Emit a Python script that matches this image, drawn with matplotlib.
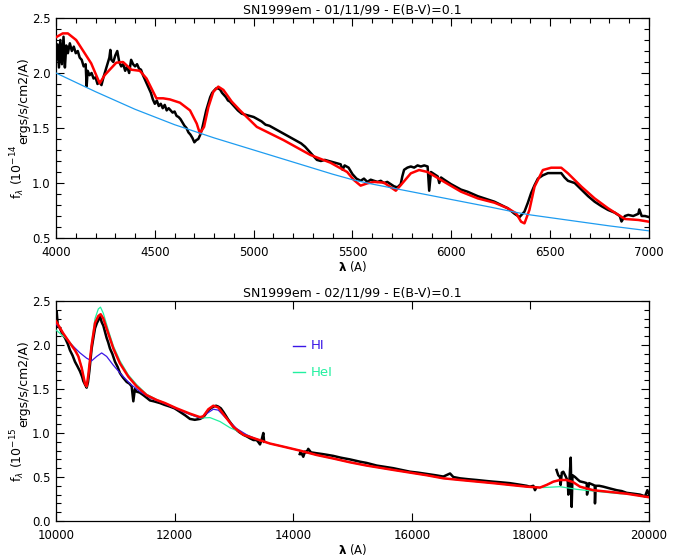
import matplotlib
matplotlib.use("Agg")
import matplotlib.pyplot as plt
import matplotlib.transforms as mtransforms
from matplotlib.ticker import MultipleLocator, FormatStrFormatter

# ---------------- Top panel data (01/11/99) ----------------
obs1_wave = [4000, 4008, 4015, 4022, 4030, 4038, 4045, 4052, 4060, 4070, 4080, 4090, 4100, 4110,
             4120, 4130, 4140, 4150, 4155, 4160, 4170, 4180, 4190, 4200, 4210, 4220, 4230, 4240,
             4250, 4260, 4270, 4275, 4280, 4290, 4300, 4310, 4320, 4330, 4340, 4350, 4360, 4370,
             4380, 4390, 4400, 4410, 4420, 4430, 4440, 4450, 4460, 4470, 4480, 4490, 4500, 4510,
             4520, 4530, 4540, 4550, 4560, 4570, 4580, 4590, 4600, 4610, 4620, 4630, 4640, 4650,
             4660, 4670, 4680, 4690, 4700, 4710, 4720, 4730, 4740, 4750, 4760, 4770, 4780, 4790,
             4800, 4810, 4820, 4830, 4840, 4850, 4860, 4870, 4880, 4900, 4920, 4940, 4960, 4980,
             5000, 5020, 5040, 5060, 5080, 5100, 5120, 5140, 5160, 5180, 5200, 5220, 5240, 5260,
             5280, 5300, 5320, 5340, 5360, 5380, 5400, 5420, 5440, 5450, 5460, 5480, 5500, 5520,
             5541, 5558, 5575, 5592, 5609, 5626, 5643, 5659, 5676, 5693, 5710, 5727, 5744, 5752,
             5761, 5778, 5795, 5812, 5829, 5846, 5863, 5880, 5888, 5897, 5914, 5931, 5939, 5948,
             5964, 5998, 6049, 6083, 6134, 6184, 6218, 6252, 6286, 6320, 6345, 6370, 6387, 6404,
             6421, 6438, 6463, 6489, 6522, 6556, 6573, 6590, 6624, 6658, 6692, 6725, 6759, 6793,
             6827, 6852, 6861, 6878, 6895, 6920, 6946, 6951, 6963, 6980, 7000]
obs1_flux = [2.12, 2.26, 2.05, 2.30, 2.08, 2.33, 2.05, 2.25, 2.18, 2.27, 2.20, 2.24, 2.18, 2.20,
             2.14, 2.12, 2.06, 2.08, 1.88, 2.02, 1.98, 2.00, 1.95, 1.96, 1.90, 1.92, 1.89, 1.96,
             2.02, 2.08, 2.14, 2.21, 2.12, 2.10, 2.16, 2.20, 2.10, 2.06, 2.08, 2.02, 2.06, 2.00,
             2.12, 2.08, 2.06, 2.08, 2.04, 2.03, 1.98, 1.94, 1.90, 1.86, 1.82, 1.76, 1.72, 1.75,
             1.70, 1.72, 1.68, 1.71, 1.66, 1.68, 1.66, 1.64, 1.65, 1.61, 1.60, 1.58, 1.55, 1.52,
             1.50, 1.46, 1.44, 1.41, 1.37, 1.39, 1.40, 1.44, 1.50, 1.58, 1.66, 1.72, 1.78, 1.82,
             1.84, 1.86, 1.86, 1.85, 1.82, 1.80, 1.78, 1.75, 1.74, 1.70, 1.66, 1.63, 1.62, 1.61,
             1.60, 1.58, 1.56, 1.53, 1.52, 1.50, 1.48, 1.46, 1.44, 1.42, 1.40, 1.38, 1.36, 1.33,
             1.29, 1.25, 1.21, 1.20, 1.21, 1.20, 1.19, 1.18, 1.17, 1.12, 1.16, 1.14, 1.08, 1.04,
             1.02, 1.04, 1.01, 1.03, 1.02, 1.01, 1.02, 1.00, 1.01, 0.99, 0.97, 0.96, 0.99, 1.06,
             1.12, 1.14, 1.15, 1.14, 1.16, 1.15, 1.16, 1.15, 0.93, 1.10, 1.08, 1.06, 1.00, 1.05,
             1.03, 0.99, 0.94, 0.92, 0.88, 0.85, 0.83, 0.80, 0.77, 0.72, 0.69, 0.74, 0.82, 0.91,
             0.98, 1.04, 1.07, 1.09, 1.09, 1.09, 1.05, 1.02, 1.00, 0.94, 0.88, 0.83, 0.79, 0.755,
             0.73, 0.70, 0.65, 0.70, 0.71, 0.70, 0.72, 0.76, 0.70, 0.70, 0.69]

mod1_wave = [4000, 4034, 4060, 4102, 4178, 4221, 4246, 4305, 4339, 4381, 4424, 4458, 4508, 4542,
             4576, 4627, 4678, 4712, 4728, 4749, 4771, 4796, 4821, 4847, 4889, 4931, 5016, 5151,
             5287, 5388, 5473, 5507, 5541, 5575, 5609, 5659, 5701, 5719, 5744, 5795, 5837, 5880,
             5964, 6049, 6134, 6218, 6286, 6328, 6353, 6370, 6395, 6421, 6463, 6505, 6556, 6590,
             6658, 6725, 6793, 6878, 6946, 7000]
mod1_flux = [2.325, 2.36, 2.36, 2.30, 2.088, 1.906, 1.98, 2.094, 2.10, 2.03, 2.02, 1.95, 1.77, 1.77,
             1.76, 1.73, 1.66, 1.54, 1.45, 1.51, 1.69, 1.83, 1.876, 1.846, 1.74, 1.66, 1.51, 1.39,
             1.255, 1.185, 1.10, 1.027, 0.976, 0.997, 1.01, 1.003, 0.952, 0.93, 0.98, 1.088, 1.118, 1.10,
             1.01, 0.921, 0.86, 0.821, 0.77, 0.724, 0.648, 0.633, 0.755, 0.967, 1.118, 1.139, 1.139, 1.088,
             0.967, 0.86, 0.77, 0.673, 0.664, 0.648]

cont1_wave = [4000, 4200, 4400, 4600, 4700, 4800, 5000, 5200, 5400, 5500, 5600, 5800, 6000, 6200,
              6336, 6400, 6600, 6800, 7000]
cont1_flux = [2.00, 1.83, 1.67, 1.53, 1.47, 1.41, 1.30, 1.19, 1.08, 1.03, 0.99, 0.92, 0.85, 0.78,
              0.73, 0.71, 0.66, 0.61, 0.565]

# ---------------- Bottom panel data (02/11/99) ----------------
obs2a_wave = [10000, 10012, 10030, 10067, 10110, 10152, 10200, 10236, 10280, 10320, 10360, 10405,
              10440, 10461, 10490, 10517, 10540, 10562, 10601, 10630, 10658, 10690, 10714, 10742,
              10770, 10798, 10830, 10854, 10880, 10910, 10950, 10995, 11040, 11079, 11130, 11192,
              11240, 11276, 11304, 11330, 11360, 11410, 11473, 11530, 11585, 11650, 11754, 11830,
              11922, 12000, 12091, 12180, 12259, 12340, 12428, 12484, 12530, 12569, 12610, 12653,
              12700, 12737, 12780, 12822, 12860, 12906, 12960, 13018, 13090, 13159, 13220, 13271,
              13330, 13384, 13420, 13440, 13470, 13496, 13510]
obs2a_flux = [2.27, 2.38, 2.22, 2.19, 2.12, 2.08, 2.01, 1.94, 1.88, 1.81, 1.76, 1.70,
              1.64, 1.59, 1.55, 1.515, 1.58, 1.70, 1.96, 2.08, 2.19, 2.25, 2.28, 2.33,
              2.26, 2.22, 2.14, 2.08, 2.03, 1.96, 1.90, 1.81, 1.75, 1.68, 1.63, 1.58,
              1.56, 1.53, 1.36, 1.50, 1.47, 1.46, 1.43, 1.40, 1.37, 1.36, 1.34, 1.32,
              1.30, 1.28, 1.24, 1.20, 1.16, 1.15, 1.16, 1.18, 1.22, 1.26, 1.28, 1.30,
              1.31, 1.30, 1.28, 1.24, 1.20, 1.15, 1.10, 1.05, 1.01, 0.98, 0.96, 0.94,
              0.92, 0.92, 0.89, 0.87, 0.93, 1.00, 0.90]

obs2b_wave = [14110, 14125, 14170, 14200, 14226, 14254, 14300, 14395, 14500, 14590, 14676, 14800,
              14957, 15126, 15238, 15408, 15550, 15689, 15830, 15970, 16100, 16251, 16400, 16532,
              16645, 16700, 16813, 16950, 17094, 17250, 17375, 17500, 17656, 17800, 17937, 17993,
              18050, 18077, 18100]
obs2b_flux = [0.76, 0.79, 0.73, 0.79, 0.78, 0.82, 0.78, 0.77, 0.76, 0.75, 0.74, 0.72,
              0.70, 0.674, 0.66, 0.63, 0.615, 0.60, 0.58, 0.56, 0.55, 0.535, 0.52, 0.505,
              0.54, 0.50, 0.485, 0.475, 0.466, 0.455, 0.447, 0.44, 0.43, 0.415, 0.40, 0.39,
              0.40, 0.35, 0.38]

obs2c_wave = [18440, 18470, 18499, 18510, 18530, 18555, 18600, 18630, 18640, 18660, 18680, 18696,
              18710, 18752, 18800, 18836, 18900, 18949, 18955, 18990, 19061, 19085, 19089, 19100,
              19160, 19230, 19340, 19455, 19540, 19624, 19740, 19848, 19933, 19972, 20000]
obs2c_flux = [0.58, 0.52, 0.50, 0.41, 0.55, 0.56, 0.50, 0.45, 0.30, 0.48, 0.72, 0.16,
              0.52, 0.50, 0.47, 0.45, 0.44, 0.43, 0.30, 0.43, 0.41, 0.40, 0.20, 0.40,
              0.40, 0.39, 0.37, 0.35, 0.34, 0.32, 0.31, 0.30, 0.28, 0.35, 0.30]

mod2_wave = [10000, 10124, 10236, 10320, 10377, 10433, 10489, 10517, 10545, 10601, 10658, 10714,
             10753, 10798, 10882, 10967, 11079, 11220, 11360, 11529, 11698, 11838, 12035, 12259,
             12428, 12484, 12569, 12653, 12737, 12850, 12990, 13159, 13384, 13609, 13834, 14114,
             14395, 14676, 14957, 15238, 15689, 16251, 16532, 16813, 17375, 17937, 18162, 18274,
             18387, 18499, 18612, 18724, 18836, 19061, 19342, 19624, 20000]
mod2_flux = [2.27, 2.13, 2.02, 1.94, 1.87, 1.74, 1.56, 1.53, 1.66, 2.00, 2.25, 2.33,
             2.35, 2.30, 2.13, 1.96, 1.79, 1.64, 1.53, 1.43, 1.375, 1.34, 1.28, 1.22,
             1.18, 1.19, 1.27, 1.31, 1.29, 1.19, 1.07, 0.98, 0.93, 0.88, 0.845, 0.80,
             0.75, 0.71, 0.667, 0.63, 0.58, 0.52, 0.485, 0.466, 0.43, 0.39, 0.38, 0.41,
             0.447, 0.466, 0.466, 0.44, 0.39, 0.35, 0.33, 0.31, 0.27]

hi_wave = [10000, 10067, 10236, 10405, 10517, 10601, 10686, 10770, 10854, 10967, 11107, 11248,
           11416, 11585, 11810, 12147, 12428, 12540, 12653, 12737, 12878, 13046, 13215, 13384,
           13609, 13834, 14114, 14395, 14676, 14957, 15238, 15689, 16251, 16532, 16813, 17375,
           17937, 18162, 18274, 18387, 18499, 18612, 18724, 18836, 19061, 19342, 19624, 20000]
hi_flux = [2.24, 2.19, 2.02, 1.91, 1.85, 1.82, 1.87, 1.91, 1.87, 1.77, 1.66, 1.56,
           1.47, 1.40, 1.34, 1.24, 1.17, 1.22, 1.27, 1.26, 1.16, 1.05, 0.98, 0.93,
           0.88, 0.845, 0.80, 0.75, 0.71, 0.667, 0.63, 0.58, 0.52, 0.485, 0.466, 0.43,
           0.39, 0.38, 0.41, 0.447, 0.466, 0.466, 0.44, 0.39, 0.35, 0.33, 0.31, 0.27]

hei_wave = [10000, 10124, 10236, 10320, 10377, 10433, 10489, 10517, 10545, 10601, 10658, 10714,
            10750, 10798, 10882, 10967, 11079, 11220, 11360, 11529, 11698, 11838, 12035, 12259,
            12428, 12597, 12766, 12934, 13103, 13271, 13384, 13609, 13834, 14114, 14395, 14676,
            14957, 15238, 15689, 16251, 16532, 16813, 17375, 17937, 18218, 18499, 18780, 19061,
            19511, 19624, 20000]
hei_flux = [2.17, 2.10, 2.03, 1.96, 1.88, 1.75, 1.57, 1.52, 1.65, 2.02, 2.30, 2.41,
            2.43, 2.36, 2.17, 1.99, 1.82, 1.66, 1.55, 1.44, 1.38, 1.34, 1.28, 1.21,
            1.17, 1.175, 1.13, 1.06, 1.01, 0.96, 0.93, 0.88, 0.845, 0.80, 0.75, 0.71,
            0.667, 0.63, 0.58, 0.52, 0.485, 0.466, 0.43, 0.39, 0.38, 0.39, 0.36, 0.34,
            0.31, 0.31, 0.27]

title1 = "SN1999em - 01/11/99 - E(B-V)=0.1"
title2 = "SN1999em - 02/11/99 - E(B-V)=0.1"
ylab1_main = r"f$_\lambda$ (10$^{-14}$"
ylab2_main = r"f$_\lambda$ (10$^{-15}$"
ylab_sub = "ergs/s/cm2/A)"
legend_labels = ["HI", "HeI"]

# ---------------- Style ----------------
plt.rcParams['font.family'] = ['DejaVu Sans']
plt.rcParams['mathtext.fontset'] = 'dejavusans'
FS = 8.5
C_OBS = 'black'
C_MOD = '#ff0000'
C_CONT = '#1e9cf0'
C_HI = '#3a16e6'
C_HEI = '#22f0a0'

fig = plt.figure(figsize=(6.86, 5.56), dpi=100)
W = 593 / 686
H = 220 / 556
ax1 = fig.add_axes([56 / 686, 1 - 238 / 556, W, H])
ax2 = fig.add_axes([56 / 686, 1 - 521 / 556, W, H])


def style(ax, xmaj, xmin, ymaj, ymin):
    ax.xaxis.set_major_locator(MultipleLocator(xmaj))
    if xmin:
        ax.xaxis.set_minor_locator(MultipleLocator(xmin))
    ax.yaxis.set_major_locator(MultipleLocator(ymaj))
    ax.yaxis.set_minor_locator(MultipleLocator(ymin))
    ax.yaxis.set_major_formatter(FormatStrFormatter('%.1f'))
    ax.tick_params(which='both', direction='in', top=True, right=True, labelsize=FS,
                   width=0.8)
    ax.tick_params(axis='x', pad=6)
    ax.tick_params(axis='y', pad=4)
    ax.tick_params(which='major', length=6)
    ax.tick_params(which='minor', length=3.5)
    for s in ax.spines.values():
        s.set_linewidth(0.9)
    ax.set_xlabel(r'$\mathbf{\lambda}$ (A)', fontsize=FS, labelpad=0)


# Top panel
ax1.plot(obs1_wave, obs1_flux, color=C_OBS, lw=1.8, zorder=2)
ax1.plot(mod1_wave, mod1_flux, color=C_MOD, lw=1.8, zorder=3)
ax1.plot(cont1_wave, cont1_flux, color=C_CONT, lw=0.9, zorder=4)
ax1.set_xlim(4000, 7000)
ax1.set_ylim(0.5, 2.5)
style(ax1, 500, 100, 0.5, 0.1)
ax1.set_title(title1, fontsize=FS + 0.5, pad=3)

# Bottom panel
for w, f in ((obs2a_wave, obs2a_flux), (obs2b_wave, obs2b_flux), (obs2c_wave, obs2c_flux)):
    ax2.plot(w, f, color=C_OBS, lw=1.8, zorder=2)
ax2.plot(hei_wave, hei_flux, color=C_HEI, lw=0.9, zorder=3)
ax2.plot(hi_wave, hi_flux, color=C_HI, lw=0.9, zorder=4)
ax2.plot(mod2_wave, mod2_flux, color=C_MOD, lw=1.8, zorder=5)
ax2.set_xlim(10000, 20000)
ax2.set_ylim(0.0, 2.5)
style(ax2, 2000, None, 0.5, 0.1)
ax2.set_title(title2, fontsize=FS + 0.5, pad=3)

# In-plot legend (line + label)
for lab, col, yv in ((legend_labels[0], C_HI, 1.99), (legend_labels[1], C_HEI, 1.69)):
    ax2.plot([14000, 14200], [yv, yv], color=col, lw=1.0)
    ax2.text(14300, yv, lab, color=col, fontsize=FS + 1, va='center', ha='left')

# Lift the lowest y tick label slightly (as in the reference)
fig.canvas.draw()
for ax in (ax1, ax2):
    labs = ax.get_yticklabels()
    if labs:
        labs[0].set_transform(labs[0].get_transform() +
                              mtransforms.ScaledTranslation(0, 3 / 72, fig.dpi_scale_trans))

# Y labels: main part plus a lowered (subscript-like) unit part, rotated
renderer = fig.canvas.get_renderer()
LFS = 9
for ax, main in ((ax1, ylab1_main), (ax2, ylab2_main)):
    bb = ax.get_position()
    yc = (bb.y0 + bb.y1) / 2 * fig.bbox.height
    xb = 22.0
    t1 = fig.text(0, 0, main + " ", fontsize=LFS, rotation=90, rotation_mode='anchor',
                  ha='left', va='baseline', transform=None)
    t2 = fig.text(0, 0, ylab_sub, fontsize=LFS, rotation=90, rotation_mode='anchor',
                  ha='left', va='baseline', transform=None)
    l1 = t1.get_window_extent(renderer).height
    l2 = t2.get_window_extent(renderer).height
    y0 = yc - (l1 + l2) / 2
    t1.set_position((xb, y0))
    t2.set_position((xb + 5, y0 + l1))

fig.savefig('out.png', dpi=100)
